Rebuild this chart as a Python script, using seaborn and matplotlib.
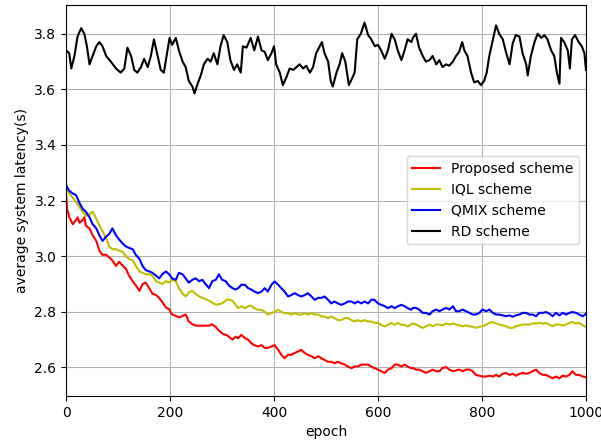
import pandas as pd
import matplotlib
matplotlib.use("Agg")
import matplotlib.pyplot as plt
import seaborn as sns

# (epoch, latency) points
proposed = [(0,3.22),(2,3.17),(6,3.14),(13,3.115),(19,3.13),(22,3.14),(26,3.12),(32,3.13),(35,3.14),(38,3.11),
            (45,3.10),(51,3.075),(58,3.055),(64,3.02),(70,3.005),(77,3.005),(83,2.995),(89,2.985),(96,2.965),(102,2.98),
            (109,2.965),(115,2.955),(121,2.93),(128,2.91),(134,2.895),(141,2.875),(147,2.90),(153,2.905),(160,2.885),(166,2.865),
            (173,2.86),(179,2.85),(185,2.835),(192,2.815),(198,2.81),(204,2.79),(211,2.785),(217,2.78),(224,2.785),(230,2.79),
            (236,2.765),(243,2.755),(249,2.75),(256,2.75),(262,2.75),(275,2.75),(281,2.755),(288,2.745),(295,2.73),(302,2.72),
            (310,2.715),(320,2.70),(326,2.71),(331,2.705),(337,2.717),(344,2.705),(350,2.70),(356,2.687),(362,2.68),(369,2.675),
            (376,2.68),(382,2.67),(388,2.67),(395,2.675),(401,2.68),(408,2.663),(414,2.645),(420,2.633),(427,2.645),(433,2.645),
            (440,2.652),(446,2.657),(452,2.663),(459,2.652),(465,2.645),(472,2.64),(478,2.633),(485,2.64),(491,2.633),(497,2.627),
            (504,2.62),(510,2.62),(516,2.615),(523,2.62),(529,2.615),(536,2.61),(542,2.603),(549,2.597),(555,2.603),(561,2.603),
            (568,2.61),(574,2.61),(581,2.61),(587,2.603),(593,2.597),(600,2.592),(606,2.586),(613,2.58),(619,2.592),(626,2.597),
            (632,2.61),(638,2.61),(645,2.603),(651,2.61),(657,2.603),(664,2.597),(667,2.598),(673,2.592),(679,2.592),(686,2.586),
            (692,2.58),(699,2.586),(705,2.592),(712,2.586),(718,2.586),(724,2.598),(731,2.601),(737,2.592),(744,2.586),(750,2.589),
            (756,2.592),(763,2.586),(769,2.592),(776,2.592),(782,2.586),(788,2.573),(795,2.57),(801,2.567),(808,2.567),(814,2.57),
            (821,2.567),(827,2.573),(833,2.567),(840,2.577),(846,2.58),(853,2.573),(859,2.577),(865,2.57),(872,2.577),(878,2.58),
            (885,2.577),(891,2.58),(897,2.586),(904,2.592),(910,2.58),(917,2.573),(923,2.573),(929,2.567),(936,2.561),(942,2.567),
            (949,2.561),(955,2.57),(962,2.567),(968,2.573),(974,2.586),(981,2.573),(987,2.573),(994,2.567),(1000,2.565)]

iql = [(0,3.245),(6,3.225),(13,3.21),(19,3.195),(26,3.175),(32,3.16),(38,3.145),(45,3.15),(51,3.16),(58,3.135),
       (64,3.11),(70,3.09),(77,3.065),(83,3.035),(89,3.025),(96,3.025),(102,3.02),(109,3.015),(115,3.00),(121,2.99),
       (128,2.985),(134,2.965),(141,2.945),(147,2.94),(153,2.935),(160,2.935),(166,2.93),(173,2.91),(179,2.905),(185,2.90),
       (192,2.91),(198,2.905),(204,2.915),(211,2.91),(217,2.885),(224,2.865),(230,2.855),(236,2.87),(243,2.875),(249,2.865),
       (256,2.855),(262,2.85),(275,2.84),(288,2.825),(300,2.83),(310,2.845),(320,2.84),(326,2.825),(331,2.813),(337,2.82),
       (344,2.813),(350,2.82),(356,2.822),(362,2.813),(369,2.807),(376,2.807),(382,2.80),(388,2.79),(395,2.795),(401,2.80),
       (408,2.807),(414,2.80),(420,2.795),(427,2.795),(433,2.79),(440,2.795),(446,2.79),(452,2.79),(459,2.795),(465,2.79),
       (472,2.795),(478,2.79),(485,2.79),(491,2.783),(497,2.783),(504,2.777),(510,2.783),(516,2.777),(523,2.77),(529,2.77),
       (536,2.777),(542,2.777),(549,2.77),(555,2.765),(561,2.77),(568,2.765),(574,2.77),(581,2.765),(587,2.765),(593,2.76),
       (600,2.76),(606,2.753),(613,2.747),(619,2.753),(626,2.76),(632,2.753),(638,2.76),(645,2.753),(651,2.753),(657,2.747),
       (667,2.758),(673,2.754),(679,2.748),(686,2.742),(692,2.748),(699,2.754),(705,2.748),(712,2.754),(718,2.754),(724,2.751),
       (731,2.758),(737,2.754),(744,2.758),(750,2.754),(756,2.751),(763,2.748),(769,2.751),(776,2.748),(782,2.746),(788,2.742),
       (795,2.746),(801,2.748),(808,2.754),(814,2.76),(821,2.763),(827,2.758),(833,2.754),(840,2.751),(846,2.748),(853,2.742),
       (859,2.742),(865,2.748),(872,2.751),(878,2.754),(885,2.754),(891,2.754),(897,2.758),(904,2.758),(910,2.76),(917,2.757),
       (923,2.76),(929,2.754),(936,2.748),(942,2.754),(949,2.754),(955,2.751),(962,2.754),(968,2.76),(974,2.763),(981,2.758),
       (987,2.76),(994,2.751),(1000,2.746)]

qmix = [(0,3.255),(6,3.235),(13,3.225),(19,3.22),(26,3.19),(32,3.17),(38,3.16),(45,3.14),(51,3.115),(58,3.10),
        (64,3.075),(70,3.055),(77,3.07),(83,3.08),(89,3.10),(96,3.075),(102,3.06),(109,3.045),(115,3.035),(121,3.03),
        (128,3.025),(134,3.005),(141,2.99),(147,2.965),(153,2.95),(160,2.945),(166,2.94),(173,2.93),(179,2.92),(185,2.935),
        (192,2.945),(198,2.935),(204,2.92),(211,2.915),(217,2.94),(224,2.935),(230,2.92),(236,2.905),(243,2.915),(249,2.92),
        (256,2.91),(262,2.915),(268,2.90),(275,2.885),(281,2.91),(288,2.915),(294,2.935),(300,2.915),(307,2.91),(313,2.895),
        (320,2.885),(326,2.88),(331,2.885),(337,2.897),(344,2.897),(350,2.885),(356,2.88),(362,2.873),(369,2.867),(376,2.873),
        (382,2.885),(388,2.873),(395,2.897),(401,2.909),(408,2.897),(414,2.885),(420,2.873),(427,2.855),(433,2.86),(440,2.867),
        (446,2.86),(452,2.855),(459,2.86),(465,2.867),(472,2.855),(478,2.843),(485,2.85),(491,2.85),(497,2.855),(504,2.843),
        (510,2.83),(516,2.837),(523,2.83),(529,2.825),(536,2.83),(542,2.837),(549,2.837),(555,2.83),(561,2.837),(568,2.83),
        (574,2.837),(581,2.83),(587,2.843),(593,2.843),(600,2.83),(606,2.825),(613,2.82),(619,2.813),(626,2.82),(632,2.813),
        (638,2.82),(645,2.825),(651,2.82),(657,2.813),(664,2.807),(667,2.814),(673,2.814),(679,2.808),(686,2.796),(692,2.796),
        (699,2.79),(705,2.802),(712,2.808),(718,2.802),(724,2.808),(731,2.814),(737,2.808),(744,2.82),(750,2.802),(756,2.802),
        (763,2.808),(769,2.802),(776,2.796),(782,2.79),(788,2.79),(795,2.796),(801,2.808),(808,2.802),(814,2.808),(821,2.796),
        (827,2.79),(833,2.79),(840,2.787),(846,2.784),(853,2.787),(859,2.782),(865,2.787),(872,2.79),(878,2.796),(885,2.796),
        (891,2.79),(897,2.79),(904,2.784),(910,2.796),(917,2.796),(923,2.799),(929,2.794),(936,2.784),(942,2.796),(949,2.787),
        (955,2.796),(962,2.79),(968,2.796),(974,2.799),(981,2.796),(987,2.79),(994,2.784),(1000,2.793)]

rd = [(0,3.74),(6,3.73),(10,3.675),(16,3.72),(22,3.79),(29,3.82),(35,3.80),(40,3.755),(45,3.69),(51,3.72),
      (58,3.755),(64,3.77),(70,3.755),(77,3.72),(86,3.70),(96,3.675),(105,3.66),(112,3.675),(118,3.75),(125,3.72),
      (131,3.67),(137,3.66),(144,3.68),(150,3.71),(157,3.68),(163,3.72),(169,3.78),(176,3.72),(182,3.67),(188,3.66),
      (195,3.74),(199,3.785),(204,3.76),(211,3.785),(217,3.74),(224,3.70),(230,3.68),(236,3.63),(243,3.61),(247,3.585),
      (252,3.615),(259,3.65),(265,3.69),(272,3.71),(278,3.70),(284,3.73),(291,3.69),(297,3.755),(303,3.795),(310,3.77),
      (316,3.705),(323,3.67),(329,3.69),(336,3.66),(340,3.755),(347,3.75),(355,3.785),(362,3.74),(369,3.79),(376,3.74),
      (382,3.735),(388,3.705),(395,3.73),(400,3.755),(404,3.69),(411,3.66),(417,3.615),(424,3.645),(430,3.675),(437,3.67),
      (443,3.68),(449,3.69),(456,3.675),(462,3.685),(469,3.66),(475,3.68),(481,3.73),(488,3.755),(492,3.77),(497,3.73),
      (504,3.70),(509,3.63),(513,3.61),(520,3.66),(526,3.69),(531,3.73),(537,3.70),(544,3.615),(550,3.64),(555,3.66),
      (560,3.78),(567,3.80),(574,3.84),(581,3.795),(587,3.78),(594,3.755),(600,3.76),(606,3.74),(613,3.71),(619,3.74),
      (626,3.80),(632,3.78),(638,3.74),(645,3.705),(651,3.74),(657,3.78),(664,3.77),(667,3.785),(673,3.80),(679,3.75),
      (686,3.72),(692,3.70),(699,3.705),(705,3.72),(712,3.69),(718,3.705),(724,3.68),(731,3.69),(737,3.685),(744,3.70),
      (750,3.72),(756,3.735),(762,3.77),(766,3.74),(772,3.72),(779,3.66),(785,3.625),(792,3.63),(798,3.615),(804,3.63),
      (809,3.66),(814,3.72),(821,3.78),(827,3.83),(833,3.80),(840,3.78),(846,3.735),(853,3.69),(859,3.765),(865,3.795),
      (872,3.79),(878,3.73),(885,3.69),(888,3.65),(894,3.72),(901,3.77),(907,3.80),(914,3.785),(920,3.795),(926,3.78),
      (933,3.74),(939,3.72),(944,3.66),(949,3.62),(952,3.785),(958,3.77),(965,3.74),(969,3.675),(973,3.78),(979,3.795),
      (986,3.77),(992,3.755),(997,3.73),(1000,3.67)]

names = ["Proposed scheme", "IQL scheme", "QMIX scheme", "RD scheme"]
colors = ["r", "y", "b", "k"]

frames = []
for name, pts in zip(names, [proposed, iql, qmix, rd]):
    d = pd.DataFrame(pts, columns=["epoch", "latency"])
    d["scheme"] = name
    frames.append(d)
df = pd.concat(frames, ignore_index=True)

fig, ax = plt.subplots(figsize=(6.01, 4.40), dpi=100)
fig.subplots_adjust(left=0.11, right=0.975, top=0.989, bottom=0.1)

sns.lineplot(data=df, x="epoch", y="latency", hue="scheme", hue_order=names,
             palette=dict(zip(names, colors)), estimator=None, sort=False,
             linewidth=1.5, ax=ax)

ax.set_xlim(0, 1000)
ax.set_xticks([0, 200, 400, 600, 800, 1000])
ax.set_yticks([2.6, 2.8, 3.0, 3.2, 3.4, 3.6, 3.8])
ax.grid(True)
ax.set_xlabel("epoch")
ax.set_ylabel("average system latency(s)")
sns.move_legend(ax, "center right", title=None)

fig.savefig("out.png", dpi=100)
